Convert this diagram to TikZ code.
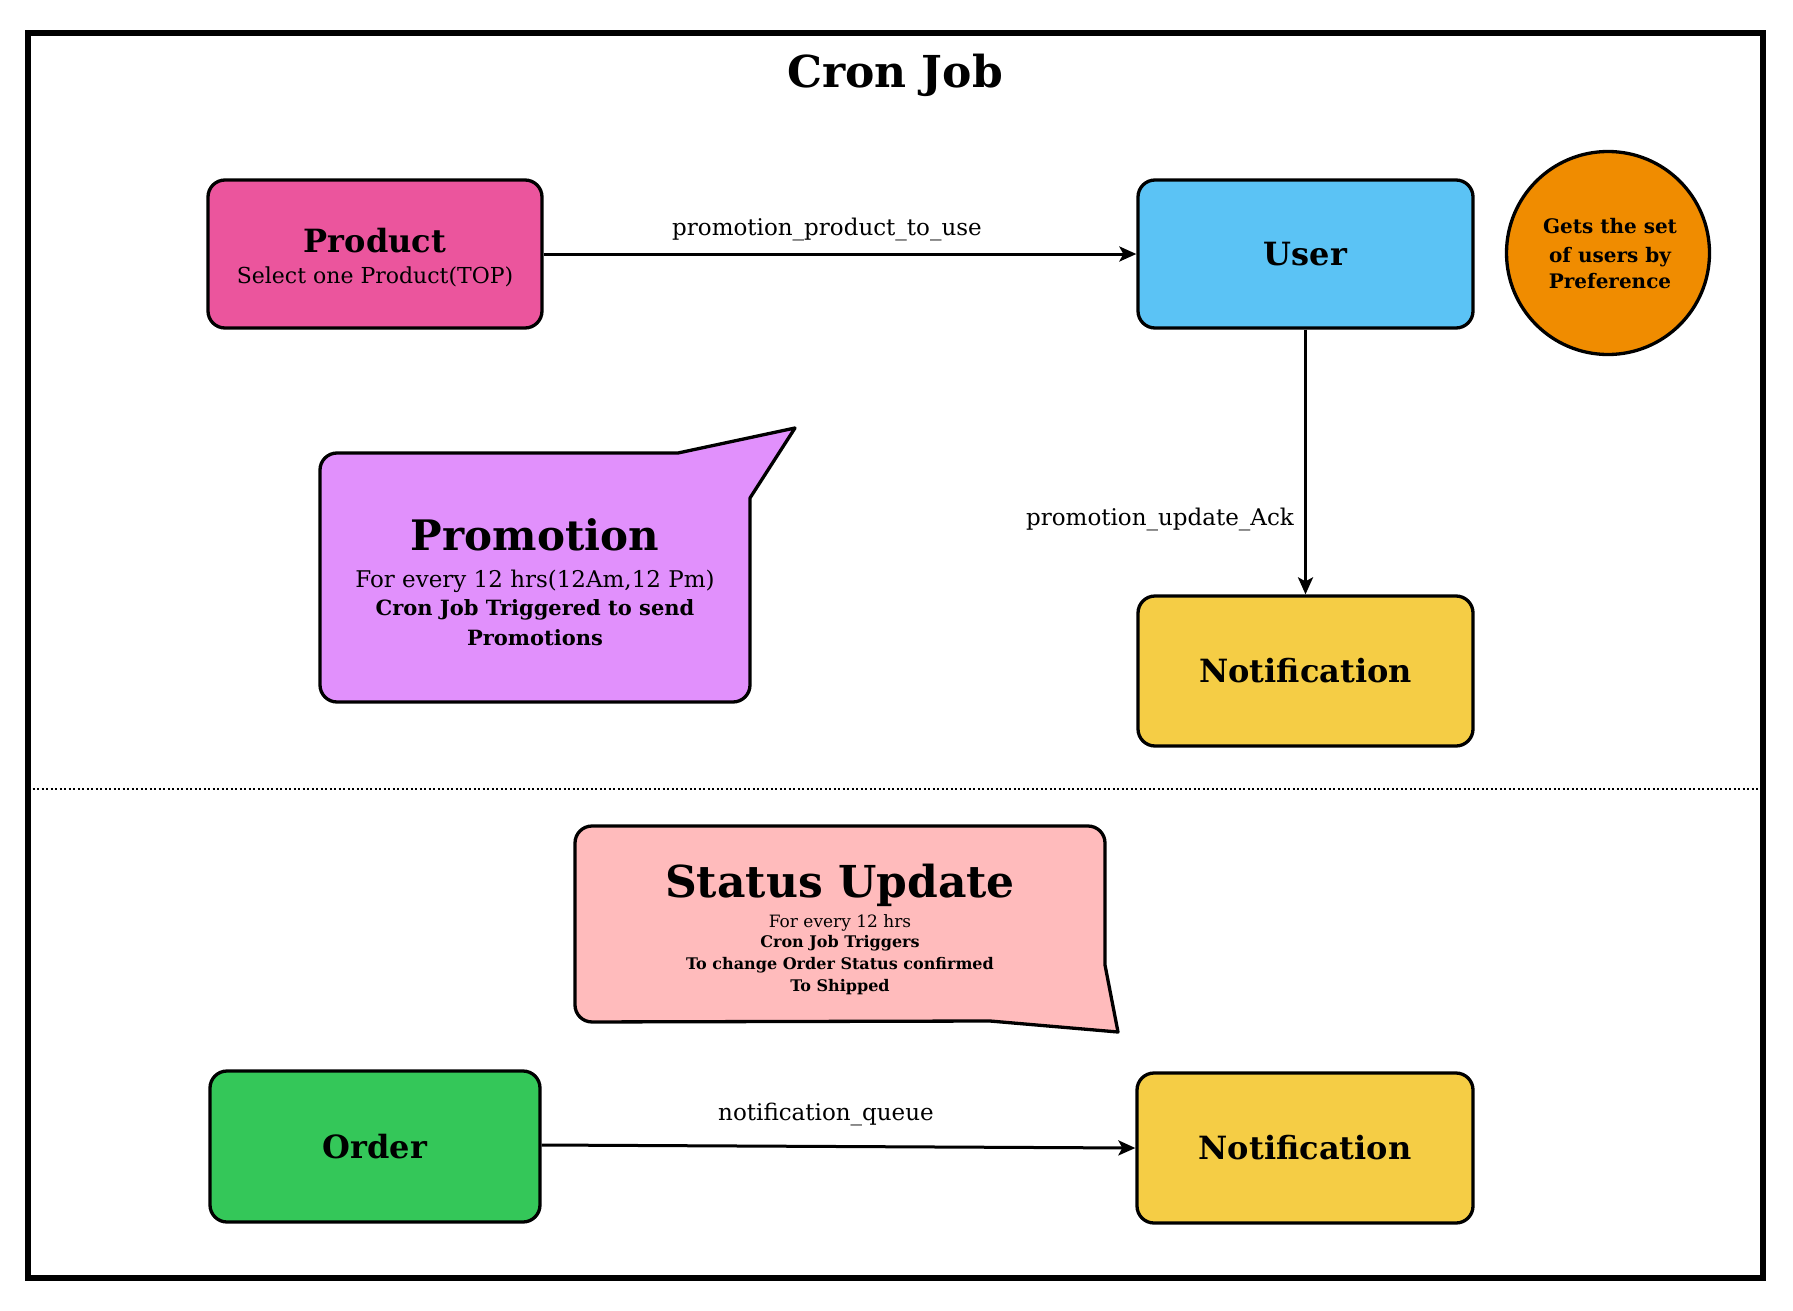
\documentclass[tikz,border=0pt]{standalone}
\usepackage{fontspec}
\setmainfont{DejaVu Serif}
\usetikzlibrary{arrows.meta}
\definecolor{prodpink}{HTML}{EB559D}
\definecolor{userblue}{HTML}{5BC3F5}
\definecolor{circorange}{HTML}{F08C00}
\definecolor{notifyellow}{HTML}{F5CD45}
\definecolor{promoviolet}{HTML}{E190FC}
\definecolor{statuspink}{HTML}{FFBBBC}
\definecolor{ordergreen}{HTML}{34C759}
\newcommand\fsz[1]{\fontsize{#1}{#1}\selectfont}
\begin{document}
\begin{tikzpicture}[x=1pt,y=-1pt,
  boxnode/.style={draw, line width=3.3pt, rounded corners=17pt, inner sep=0pt},
  callout/.style={draw, line width=3.3pt, line join=round},
  txt/.style={inner sep=0pt, anchor=base},
  arr/.style={line width=3pt, -{Stealth[length=17pt,width=15pt,inset=4pt]}},
  bigbold/.style={font=\fsz{32}\bfseries}
]
\useasboundingbox (0,0) rectangle (1793,1311);
\fill[white] (0,0) rectangle (1793,1311);

% frame and divider
\draw[line width=5.5pt] (28,33) rectangle (1763,1278);
\draw[line width=2pt, dash pattern=on 2pt off 2.5pt] (28,789) -- (1763,789);

\node[txt, font=\fsz{44}\bfseries] (title) at (895,88) {Cron Job};

% boxes
\node[boxnode, fill=prodpink, minimum width=334pt, minimum height=148pt] (product) at (375,254) {};
\node[txt, bigbold] (producttitle) at (375,252) {Product};
\node[txt, font=\fsz{22}] (productsub) at (375,283) {Select one Product(TOP)};

\node[boxnode, fill=userblue, minimum width=335pt, minimum height=148pt, bigbold] (user) at (1305.5,254) {User};

\node[draw, line width=3.3pt, circle, fill=circorange, minimum size=203pt, inner sep=0pt] (pref) at (1608,253) {};
\node[txt, font=\fsz{20}\bfseries] (pref1) at (1610,233) {Gets the set};
\node[txt, font=\fsz{20}\bfseries] (pref2) at (1610,262) {of users by};
\node[txt, font=\fsz{20}\bfseries] (pref3) at (1610,288) {Preference};

\node[boxnode, fill=notifyellow, minimum width=335pt, minimum height=150pt, bigbold] (notif1) at (1305.5,671) {Notification};

\node[boxnode, fill=ordergreen, minimum width=330pt, minimum height=151pt, bigbold] (order) at (375,1146.5) {Order};

\node[boxnode, fill=notifyellow, minimum width=336pt, minimum height=150pt, bigbold] (notif2) at (1305,1148) {Notification};

% promotion callout
\draw[callout, fill=promoviolet] (320,600) [rounded corners=17pt] -- (320,453) [sharp corners] -- (678,453) -- (795,428) -- (750,498) [rounded corners=17pt] -- (750,702) -- (320,702) [sharp corners] -- cycle;
\node[txt, font=\fsz{42}\bfseries] (promotitle) at (535,550) {Promotion};
\node[txt, font=\fsz{23}] (promo1) at (535,587) {For every 12 hrs(12Am,12 Pm)};
\node[txt, font=\fsz{21}\bfseries] (promo2) at (535,615) {Cron Job Triggered to send};
\node[txt, font=\fsz{21}\bfseries] (promo3) at (535,645) {Promotions};

% status callout
\draw[callout, fill=statuspink] (575,920) [rounded corners=17pt] -- (575,826) -- (1105,826) [sharp corners] -- (1105,965) -- (1118,1032) -- (990,1021) [rounded corners=17pt] -- (575,1022) [sharp corners] -- cycle;
\node[txt, font=\fsz{44}\bfseries] (stattitle) at (840,897) {Status Update};
\node[txt, font=\fsz{17}] (stat1) at (840,927) {For every 12 hrs};
\node[txt, font=\fsz{16}\bfseries] (stat2) at (840,947) {Cron Job Triggers};
\node[txt, font=\fsz{16}\bfseries] (stat3) at (840,969) {To change Order Status confirmed};
\node[txt, font=\fsz{16}\bfseries] (stat4) at (840,991) {To Shipped};

% connectors
\draw[arr] (product.east) -- (user.west);
\node[txt, font=\fsz{23}] (lab1) at (827,235) {promotion\_product\_to\_use};

\draw[arr] (user.south) -- (notif1.north);
\node[txt, font=\fsz{23}] (lab2) at (1160,525) {promotion\_update\_Ack};

\draw[arr] (order.east |- 0,1145) -- (notif2.west);
\node[txt, font=\fsz{23}] (lab3) at (826,1120) {notification\_queue};
\end{tikzpicture}
\end{document}
